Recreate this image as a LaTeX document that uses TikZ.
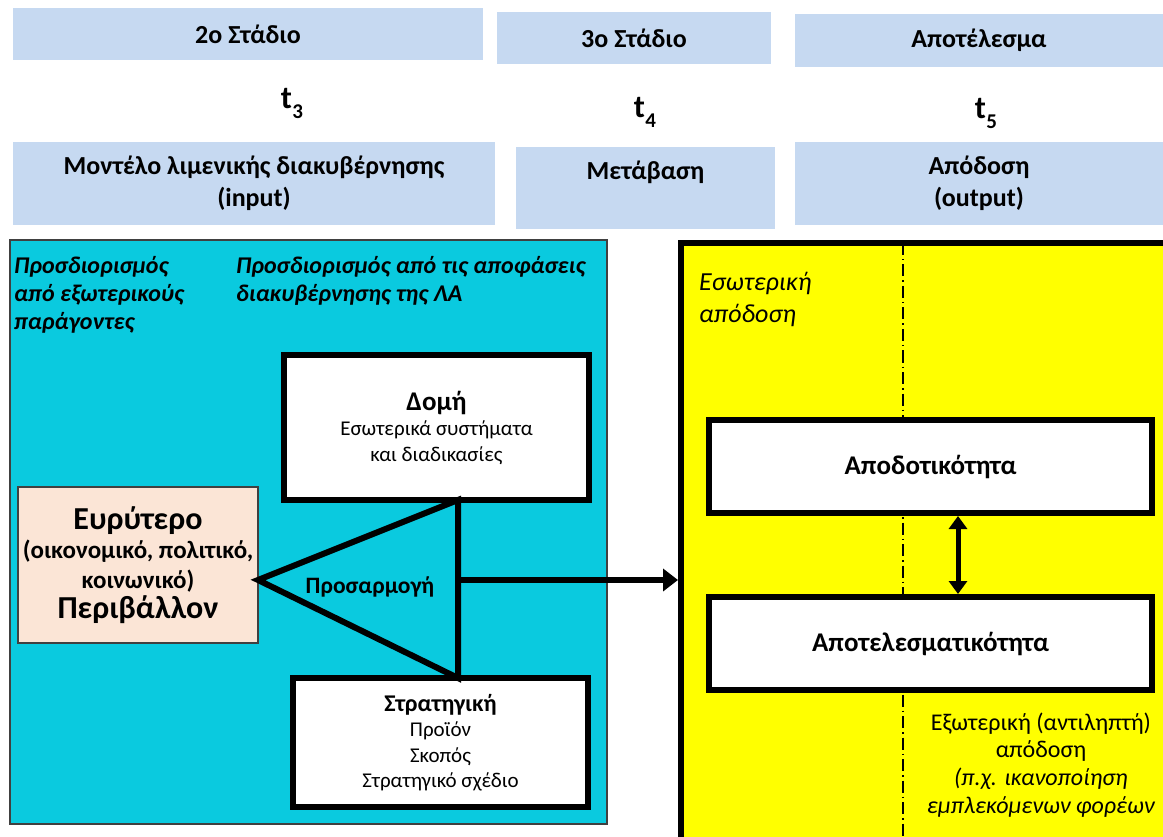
\documentclass[tikz,border=0pt]{standalone}
\usepackage{fontspec}
\setmainfont{Carlito}
\usetikzlibrary{arrows.meta}
\definecolor{hdrblue}{HTML}{C6D9F1}
\definecolor{cyanfill}{HTML}{0ACADF}
\definecolor{peach}{HTML}{FBE5D6}
\definecolor{yel}{HTML}{FFFF00}
\newcommand\fsz[2]{\fontsize{#1}{#2}\selectfont}
\tikzset{
  hdr/.style={fill=hdrblue, inner sep=0pt, outer sep=0pt, align=center, font=\bfseries\fsz{26}{32}},
  tlabel/.style={font=\bfseries\fsz{32}{32}, inner sep=0pt},
  thickbox/.style={draw=black, line width=6pt, fill=white, inner sep=0pt, outer sep=0pt, align=center},
  thinbox/.style={draw=black!75, line width=1.2pt, inner sep=0pt, outer sep=0pt, align=center},
  heavy/.style={line width=6pt},
  dashdotline/.style={line width=1.3pt, dash pattern=on 12pt off 4pt on 1.5pt off 4pt},
}
\begin{document}
\begin{tikzpicture}[x=1pt,y=-1pt]
\useasboundingbox (0,0) rectangle (1163,837);
\clip (0,0) rectangle (1163,837);
% header rows
\node[hdr, minimum width=470, minimum height=52] (s2) at (248,34) {2o Στάδιο};
\node[hdr, minimum width=274, minimum height=52] (s3) at (634,38) {3o Στάδιο};
\node[hdr, minimum width=368, minimum height=53] (res) at (979,40.5) {Αποτέλεσμα};
\node[tlabel] (t3) at (292,103) {t\kern0.5pt\raisebox{-10pt}{\fsz{21}{21}3}};
\node[tlabel] (t4) at (645,112) {t\kern0.5pt\raisebox{-10pt}{\fsz{21}{21}4}};
\node[tlabel] (t5) at (986,113) {t\kern0.5pt\raisebox{-10pt}{\fsz{21}{21}5}};
\node[hdr, minimum width=482, minimum height=83] (mod) at (254,183.5) {Μοντέλο λιμενικής διακυβέρνησης\\(input)};
\node[hdr, minimum width=259, minimum height=82] (trans) at (645.5,188) {Μετάβαση\\\phantom{(input)}};
\node[hdr, minimum width=368, minimum height=83] (outp) at (979,183.5) {Απόδοση\\(output)};
% cyan block
\node[thinbox, fill=cyanfill, minimum width=597, minimum height=584] (cy) at (308.5,532) {};
\node[anchor=north west, inner sep=0pt, align=left, font=\bfseries\itshape\fsz{24}{28}] (extdet) at (14,256) {Προσδιορισμός\\από εξωτερικούς\\παράγοντες};
\node[anchor=north west, inner sep=0pt, align=left, font=\bfseries\itshape\fsz{24}{28}] (govdet) at (236,256) {Προσδιορισμός από τις αποφάσεις\\διακυβέρνησης της ΛΑ};
\node[thickbox, minimum width=305, minimum height=145, font=\fsz{21}{25.5}] (dom) at (436.5,427.5) {{\bfseries\fsz{27}{27}Δομή}\\Εσωτερικά συστήματα\\και διαδικασίες};
\node[thickbox, minimum width=295, minimum height=129, font=\fsz{21}{25.5}] (str) at (440.5,742.5) {{\bfseries\fsz{24}{24}Στρατηγική}\\Προϊόν\\Σκοπός\\Στρατηγικό σχέδιο};
\node[thinbox, fill=peach, minimum width=240, minimum height=156, font=\bfseries\fsz{25}{29.5}] (wide) at (138,565) {{\fsz{32}{32}Ευρύτερο}\\(οικονομικό, πολιτικό,\\κοινωνικό)\\[1pt]{\fsz{32}{32}Περιβάλλον}};
% triangle
\coordinate (tA) at (258,580);
\coordinate (tT) at (458,500);
\coordinate (tB) at (458,678);
\coordinate (tM) at (458,580);
\draw[heavy, line join=miter] (tA) -- (tT) -- (tB) -- cycle;
\node[font=\bfseries\fsz{23.5}{24}, inner sep=0pt] (adapt) at (370,587) {Προσαρμογή};
% yellow block
\node[draw=black, line width=6pt, fill=yel, minimum width=494, minimum height=607, inner sep=0pt, outer sep=0pt] (yb) at (928,546.5) {};
\coordinate (dtop) at (903,243);
\coordinate (dbot) at (903,837);
\draw[dashdotline] (dtop) -- (dbot);
\draw[heavy, -{Triangle[length=15pt,width=22pt]}, shorten >=3pt] (tM) -- (tM -| yb.west);
\node[anchor=north west, inner sep=0pt, align=left, font=\itshape\fsz{26}{32}] (inper) at (699,272) {Εσωτερική\\απόδοση};
\node[thickbox, minimum width=443, minimum height=93, font=\bfseries\fsz{27}{30}] (eff) at (930.5,466.5) {Αποδοτικότητα};
\node[thickbox, minimum width=443, minimum height=93, font=\bfseries\fsz{27}{30}] (efc) at (930.5,643.5) {Αποτελεσματικότητα};
\coordinate (dx) at (958,0);
\draw[line width=5pt, {Triangle[length=13pt,width=18pt]}-{Triangle[length=13pt,width=18pt]}, shorten <=3pt, shorten >=3pt] (eff.south -| dx) -- (efc.north -| dx);
\node[align=center, inner sep=0pt, font=\fsz{24}{27.7}] (exper) at (1041,765) {Εξωτερική (αντιληπτή)\\απόδοση\\\textit{(π.χ. ικανοποίηση}\\\textit{εμπλεκόμενων φορέων}};
\end{tikzpicture}
\end{document}
